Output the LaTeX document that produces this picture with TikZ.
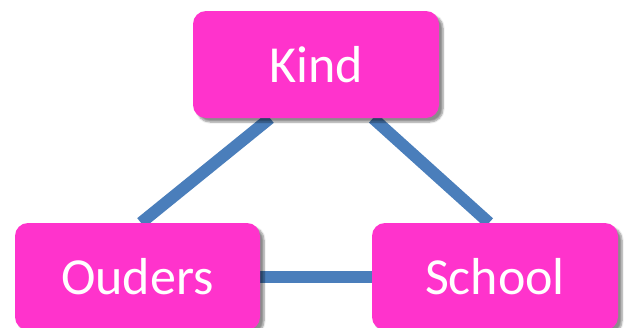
\documentclass[tikz,border=0pt]{standalone}
\usepackage{fontspec}
\setmainfont{Carlito}
\usetikzlibrary{shadows.blur,backgrounds}
\definecolor{boxpink}{HTML}{FF33CC}
\definecolor{linkblue}{HTML}{4A7EBB}
\tikzset{
  box/.style={draw=none, fill=boxpink, rounded corners=13pt, minimum width=246pt,
    minimum height=107pt, inner sep=0pt, text=white,
    font=\fontsize{52}{60}\selectfont,
    blur shadow={shadow xshift=4pt, shadow yshift=-4pt, shadow blur steps=6, shadow blur extra rounding=2pt, shadow opacity=45}},
  conn/.style={draw=linkblue, line width=12pt}
}
\begin{document}
\begin{tikzpicture}[x=1pt,y=-1pt]
\useasboundingbox (0,0) rectangle (627,327);
\node[box] (kind) at (316,64.5) {Kind};
\node[box, minimum width=245pt] (ouders) at (137.5,276.5) {Ouders};
\node[box] (school) at (495,276.5) {School};
\begin{scope}[on background layer]
\draw[conn] ([xshift=-46pt]kind.south) -- ([xshift=3.5pt]ouders.north);
\draw[conn] ([xshift=57pt]kind.south) -- ([xshift=-6pt]school.north);
\draw[conn] (ouders.east) -- (school.west);
\end{scope}
\end{tikzpicture}
\end{document}
